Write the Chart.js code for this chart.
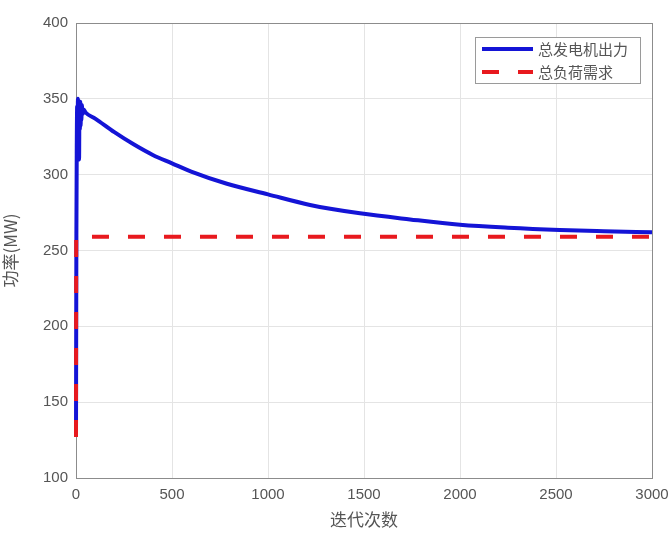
<!DOCTYPE html>
<html>
<head>
<meta charset="utf-8">
<script src="https://cdn.jsdelivr.net/npm/chart.js@4.4.0/dist/chart.umd.min.js"></script>
<style>
  html, body { margin: 0; padding: 0; background: #fff; }
  #box { width: 672px; height: 533px; }
</style>
</head>
<body>
<div id="box"><canvas id="lineGen"></canvas></div>
<script>
// dados
const iterGen = [0, 2, 4, 6, 8, 10, 12, 14, 16, 18, 20, 22, 24, 26, 28, 30, 35, 40, 50, 100, 200, 300, 400, 500, 600, 786, 1000, 1219, 1479, 1740, 2000, 2250, 2520, 2750, 3000];
const potGen = [128, 260, 318, 345, 312, 350, 322, 343, 310, 346, 330, 348, 332, 344, 336, 346, 340, 343, 341, 337, 328, 320, 313, 307.5, 302, 294, 287, 280, 274.5, 270.5, 267, 265, 263.5, 262.7, 262];
const iterCarga = [0, 1, 3000];
const potCarga = [127, 259, 259];
const legendas = ['总发电机出力', '总负荷需求'];
const xTicks = [0, 500, 1000, 1500, 2000, 2500, 3000];
const yTicks = [100, 150, 200, 250, 300, 350, 400];

const corTexto = '#555555';
const fonteCJK = "'Noto Sans CJK SC', sans-serif";
const fonteNum = "'Liberation Sans', Arial, sans-serif";

// legenda dentro do grafico, estilo matlab
const legendaBox = {
    id: 'legendaBox',
    afterDatasetsDraw(chart) {
        const ctx = chart.ctx;
        const x = 475, y = 37, w = 165, h = 46;
        ctx.save();
        ctx.fillStyle = '#fff';
        ctx.fillRect(x, y, w, h);
        ctx.strokeStyle = '#9a9a9a';
        ctx.lineWidth = 1;
        ctx.strokeRect(x + 0.5, y + 0.5, w, h);
        chart.data.datasets.forEach((ds, i) => {
            const ly = y + 12 + i * 23;
            ctx.beginPath();
            ctx.strokeStyle = ds.borderColor;
            ctx.lineWidth = 4;
            ctx.setLineDash(ds.borderDash || []);
            ctx.moveTo(482, ly);
            ctx.lineTo(533, ly);
            ctx.stroke();
            ctx.setLineDash([]);
            ctx.fillStyle = corTexto;
            ctx.font = '15px ' + fonteCJK;
            ctx.textBaseline = 'middle';
            ctx.fillText(ds.label, 538, ly);
        });
        ctx.restore();
    }
};

// moldura do eixo (box on)
const moldura = {
    id: 'moldura',
    beforeDatasetsDraw(chart) {
        const a = chart.chartArea;
        const ctx = chart.ctx;
        ctx.save();
        ctx.strokeStyle = '#8c8c8c';
        ctx.lineWidth = 1;
        ctx.strokeRect(Math.round(a.left) + 0.5, Math.round(a.top) + 0.5, Math.round(a.right - a.left), Math.round(a.bottom - a.top));
        ctx.restore();
    }
};

const dadosGen = {
    datasets: [{
        label: legendas[0],
        data: iterGen.map((v, i) => ({ x: v, y: potGen[i] })),
        borderColor: '#1414d6',
        borderWidth: 4,
        pointRadius: 0,
        cubicInterpolationMode: 'monotone',
        fill: false,
        clip: false,
        order: 1
    }, {
        label: legendas[1],
        data: iterCarga.map((v, i) => ({ x: v, y: potCarga[i] })),
        borderColor: '#e8191e',
        borderWidth: 4,
        borderDash: [17, 19],
        pointRadius: 0,
        tension: 0,
        fill: false,
        clip: false,
        order: 0
    }]
};

const configGen = {
    type: 'line',
    data: dadosGen,
    options: {
        responsive: true,
        maintainAspectRatio: false,
        animation: false,
        layout: { padding: { top: 23, right: 20, left: 0, bottom: 0 } },
        scales: {
            x: {
                type: 'linear',
                min: 0,
                max: 3000,
                afterBuildTicks: (axis) => { axis.ticks = xTicks.map(v => ({ value: v })); },
                afterFit: (axis) => {
                    axis.height = 55;
                    axis.paddingLeft = 0;
                    axis.paddingRight = 0;
                },
                grid: { color: '#e4e4e4', drawTicks: false },
                border: { color: '#8c8c8c' },
                ticks: {
                    padding: 8,
                    color: corTexto,
                    callback: (v) => String(v),
                    font: { size: 15, family: fonteNum }
                },
                title: {
                    display: true,
                    text: '迭代次数',
                    color: corTexto,
                    padding: { top: 0, bottom: 3 },
                    font: { size: 17, family: fonteCJK }
                }
            },
            y: {
                min: 100,
                max: 400,
                afterBuildTicks: (axis) => { axis.ticks = yTicks.map(v => ({ value: v })); },
                afterFit: (axis) => {
                    axis.width = 76;
                    axis.paddingTop = 0;
                    axis.paddingBottom = 0;
                },
                grid: { color: '#e4e4e4', drawTicks: false },
                border: { color: '#8c8c8c' },
                ticks: {
                    padding: 8,
                    color: corTexto,
                    callback: (v) => String(v),
                    font: { size: 15, family: fonteNum }
                },
                title: {
                    display: true,
                    text: '功率(MW)',
                    color: corTexto,
                    padding: { top: 0, bottom: 6 },
                    font: { size: 17, family: fonteCJK }
                }
            }
        },
        plugins: {
            legend: { display: false },
            tooltip: { enabled: false }
        }
    },
    plugins: [moldura, legendaBox]
};

new Chart(document.getElementById('lineGen').getContext('2d'), configGen);
</script>
</body>
</html>
